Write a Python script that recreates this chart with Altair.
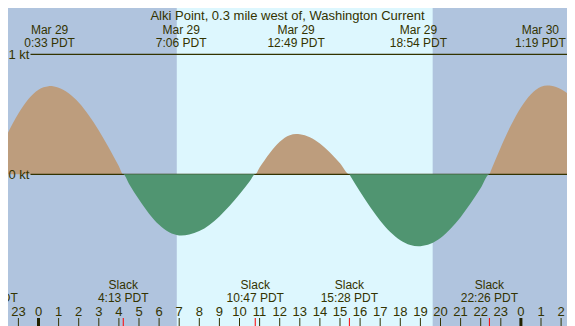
import altair as alt
import pandas as pd

TITLE = "Alki Point, 0.3 mile west of, Washington Current"

# hours relative to Mar 29 00:00 PDT, current in knots (flood +, ebb -)
hours = [-2.46, -2.0, -1.5, -1.0, -0.5, 0.0, 0.5, 0.55, 1.0, 1.5, 2.0, 2.5, 3.0, 3.5, 4.0, 4.217,
         4.5, 5.0, 5.5, 6.0, 6.5, 7.0, 7.1, 7.5, 8.0, 8.5, 9.0, 9.5, 10.0, 10.5, 10.783,
         11.0, 11.5, 12.0, 12.5, 12.817, 13.0, 13.5, 14.0, 14.5, 15.0, 15.467,
         15.5, 16.0, 16.5, 17.0, 17.5, 18.0, 18.5, 18.9, 19.0, 19.5, 20.0, 20.5, 21.0, 21.5, 22.0, 22.433,
         22.5, 23.0, 23.5, 24.0, 24.5, 25.0, 25.317, 25.5, 26.0, 26.5, 27.0]
knots = [0.0, 0.175, 0.353, 0.507, 0.627, 0.705, 0.734, 0.735, 0.721, 0.675, 0.598, 0.493, 0.366, 0.222, 0.068, 0.0,
         -0.078, -0.211, -0.328, -0.421, -0.483, -0.509, -0.51, -0.502, -0.473, -0.422, -0.351, -0.265, -0.167, -0.061, 0.0,
         0.056, 0.176, 0.271, 0.325, 0.335, 0.333, 0.308, 0.256, 0.182, 0.092, 0.0,
         -0.009, -0.145, -0.273, -0.387, -0.481, -0.550, -0.590, -0.60, -0.599, -0.579, -0.530, -0.454, -0.357, -0.242, -0.115, 0.0,
         0.027, 0.225, 0.406, 0.557, 0.668, 0.729, 0.74, 0.738, 0.709, 0.649, 0.559]

sunrise = 6.88
sunset = 19.61

peak_hours = [0.55, 7.1, 12.817, 18.9, 25.317]
peak_dates = ["Mar 29", "Mar 29", "Mar 29", "Mar 29", "Mar 30"]
peak_times = ["0:33 PDT", "7:06 PDT", "12:49 PDT", "18:54 PDT", "1:19 PDT"]

slack_hours = [-2.46, 4.217, 10.783, 15.467, 22.433]
slack_times = ["21:32 PDT", "4:13 PDT", "10:47 PDT", "15:28 PDT", "22:26 PDT"]

tick_hours = list(range(-1, 27))
tick_labels = [str(h % 24) for h in tick_hours]
midnight_hours = [0, 24]

level_values = [0, 1]
level_labels = ["0 kt", "1 kt"]

NIGHT = "#b0c4de"
DAY = "#ddf7fe"
FLOOD = "#bd9d7d"
EBB = "#509571"
INK = "#333300"
FONT = "Liberation Sans"

W, H = 559, 318
xs = alt.Scale(domain=[-1.5174, 26.2935], nice=False, zero=False)
ys = alt.Scale(domain=[-1.2642, 1.3858], nice=False, zero=False)


def X(field):
    return alt.X(field, type="quantitative", scale=xs, axis=None)


curve = pd.DataFrame({"h": hours, "v": knots})
day_df = pd.DataFrame({"a": [sunrise], "b": [sunset]})
peaks = pd.DataFrame({"h": peak_hours,
                      "lab": [d + "\n" + t for d, t in zip(peak_dates, peak_times)]})
slacks = pd.DataFrame({"h": slack_hours,
                       "lab": ["Slack\n" + t for t in slack_times]})
ticks = pd.DataFrame({"h": tick_hours, "l": tick_labels})
mids = pd.DataFrame({"h": midnight_hours})
levels = pd.DataFrame({"v": level_values, "l": level_labels})
title_df = pd.DataFrame({"t": [TITLE]})

day = alt.Chart(day_df).mark_rect(color=DAY).encode(
    x=X("a"), x2="b", y=alt.value(0), y2=alt.value(H))

flood = alt.Chart(curve).transform_calculate(vp="max(datum.v, 0)").mark_area(
    color=FLOOD, interpolate="monotone", clip=True).encode(
    x=X("h"), y=alt.Y("vp:Q", scale=ys, axis=None), y2=alt.datum(0))

ebb = alt.Chart(curve).transform_calculate(vn="min(datum.v, 0)").mark_area(
    color=EBB, interpolate="monotone", clip=True).encode(
    x=X("h"), y=alt.Y("vn:Q", scale=ys, axis=None), y2=alt.datum(0))

level_rules = alt.Chart(levels).mark_rule(color=INK, strokeWidth=1.2).encode(
    y=alt.Y("v:Q", scale=ys, axis=None), x=alt.value(22.5), x2=alt.value(W))
level_text = alt.Chart(levels).mark_text(
    font=FONT, fontSize=13, color=INK, align="left", baseline="middle", dy=1).encode(
    y=alt.Y("v:Q", scale=ys, axis=None), x=alt.value(0.5), text="l:N")

title = alt.Chart(title_df).mark_text(
    font=FONT, fontSize=13, color=INK, align="center", baseline="middle").encode(
    x=alt.value(279.5), y=alt.value(7.9), text="t:N")

peak_style = dict(font=FONT, fontSize=12, color=INK, align="center", baseline="middle",
                  lineBreak="\n", lineHeight=13.5)
peak_text = alt.Chart(peaks).transform_filter("datum.h < 25").mark_text(**peak_style).encode(
    x=X("h"), y=alt.value(21.8), text="lab:N")
peak_text_last = alt.Chart(peaks).transform_filter("datum.h >= 25").mark_text(
    dx=-7, **peak_style).encode(
    x=X("h"), y=alt.value(21.8), text="lab:N")

slack_text = alt.Chart(slacks).mark_text(
    font=FONT, fontSize=12, color=INK, align="center", baseline="middle",
    lineBreak="\n", lineHeight=13.5).encode(
    x=X("h"), y=alt.value(276.9), text="lab:N")

hour_text = alt.Chart(ticks).mark_text(
    font=FONT, fontSize=13, color=INK, align="center", baseline="middle").encode(
    x=X("h"), y=alt.value(304.4), text="l:N")
hour_ticks = alt.Chart(ticks).mark_rule(color=INK, strokeWidth=1).encode(
    x=X("h"), y=alt.value(310), y2=alt.value(H))
mid_ticks = alt.Chart(mids).mark_rule(color="#222200", strokeWidth=3).encode(
    x=X("h"), y=alt.value(310), y2=alt.value(H))
slack_ticks = alt.Chart(slacks).mark_rule(color="#ff0000", strokeWidth=1).encode(
    x=X("h"), y=alt.value(310), y2=alt.value(H))

chart = alt.layer(
    day, flood, level_rules, ebb, level_text, title, peak_text, peak_text_last,
    slack_text, hour_text, hour_ticks, mid_ticks, slack_ticks
).properties(
    width=W, height=H, padding=0, background=NIGHT,
    autosize=alt.AutoSizeParams(type="none")
).configure_view(stroke=None)

chart.save("out.html", embed_options={"renderer": "svg", "actions": False})
